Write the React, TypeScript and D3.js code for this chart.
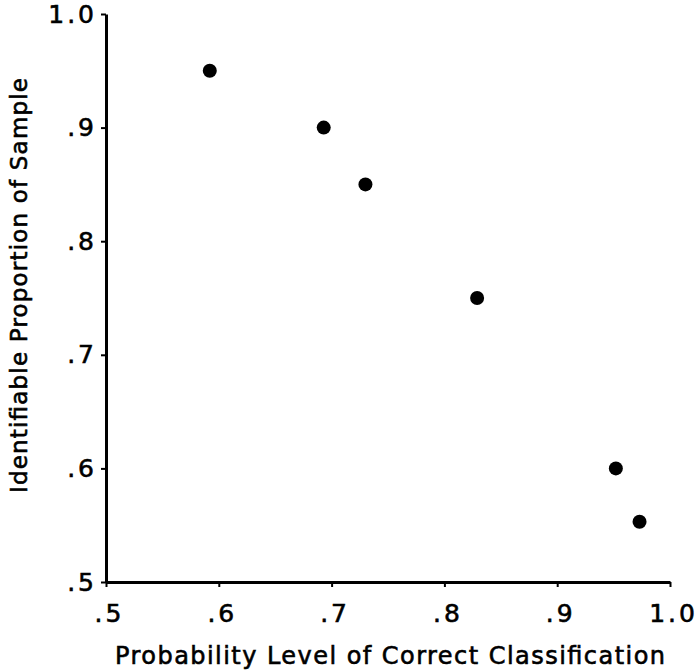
import React, { useEffect, useRef } from 'react';
import * as d3 from 'd3';

// probability level vs identifiable proportion
const probLevel = [0.592, 0.693, 0.73, 0.829, 0.952, 0.973];
const propIdentified = [0.95, 0.9, 0.85, 0.75, 0.6, 0.553];
const tickValues = [0.5, 0.6, 0.7, 0.8, 0.9, 1.0];
const tickLabels = ['.5', '.6', '.7', '.8', '.9', '1.0'];
const xTitle = 'Probability Level of Correct Classification';
const yTitle = 'Identifiable Proportion of Sample';

const App = () => {
    const chartRef = useRef<SVGSVGElement | null>(null);

    useEffect(() => {
        const svg = d3.select(chartRef.current);
        svg.selectAll('*').remove();

        const width = 699;
        const height = 670;
        const margin = { top: 14, right: 29, bottom: 88, left: 106 };
        const font = '"DejaVu Sans", Arial, sans-serif';

        const x = d3.scaleLinear().domain([0.5, 1.0]).range([margin.left, width - margin.right]);
        const y = d3.scaleLinear().domain([0.5, 1.0]).range([height - margin.bottom, margin.top]);

        const fmt = (d: d3.NumberValue) => tickLabels[tickValues.indexOf(+d)];

        const styleText = (sel: any, size: number) => sel
            .attr('font-family', font)
            .attr('font-size', size)
            .attr('fill', '#000')
            .attr('stroke', '#000')
            .attr('stroke-width', 0.6);

        // x axis
        const xAxis = svg.append('g')
            .attr('transform', `translate(0,${height - margin.bottom})`)
            .call(d3.axisBottom(x).tickValues(tickValues).tickFormat(fmt).tickSize(5).tickSizeOuter(0).tickPadding(17));
        xAxis.select('.domain').attr('stroke', '#000').attr('stroke-width', 3);
        xAxis.selectAll('.tick line').attr('stroke-width', 2);
        styleText(xAxis.selectAll('.tick text'), 25)
            .attr('dx', 3)
            .attr('letter-spacing', 3);

        // y axis
        const yAxis = svg.append('g')
            .attr('transform', `translate(${margin.left},0)`)
            .call(d3.axisLeft(y).tickValues(tickValues).tickFormat(fmt).tickSize(5).tickSizeOuter(0).tickPadding(4));
        yAxis.select('.domain').attr('stroke', '#000').attr('stroke-width', 3);
        yAxis.selectAll('.tick line').attr('stroke-width', 2);
        styleText(yAxis.selectAll('.tick text'), 25)
            .attr('letter-spacing', 3);

        // axis titles
        styleText(svg.append('text'), 24)
            .attr('x', 115)
            .attr('y', 664)
            .attr('textLength', 550)
            .attr('lengthAdjust', 'spacing')
            .text(xTitle);

        styleText(svg.append('text'), 23)
            .attr('transform', 'translate(27,493) rotate(-90)')
            .attr('textLength', 415)
            .attr('lengthAdjust', 'spacing')
            .text(yTitle);

        // points
        svg.append('g')
            .selectAll('circle')
            .data(probLevel)
            .enter()
            .append('circle')
            .attr('cx', d => x(d))
            .attr('cy', (d, i) => y(propIdentified[i]))
            .attr('r', 7)
            .attr('fill', '#000');
    }, []);

    return (
        <svg
            ref={chartRef}
            width={699}
            height={670}
            style={{ position: 'absolute', left: 0, top: 0, background: '#fff' }}
        />
    );
};

export default App;
